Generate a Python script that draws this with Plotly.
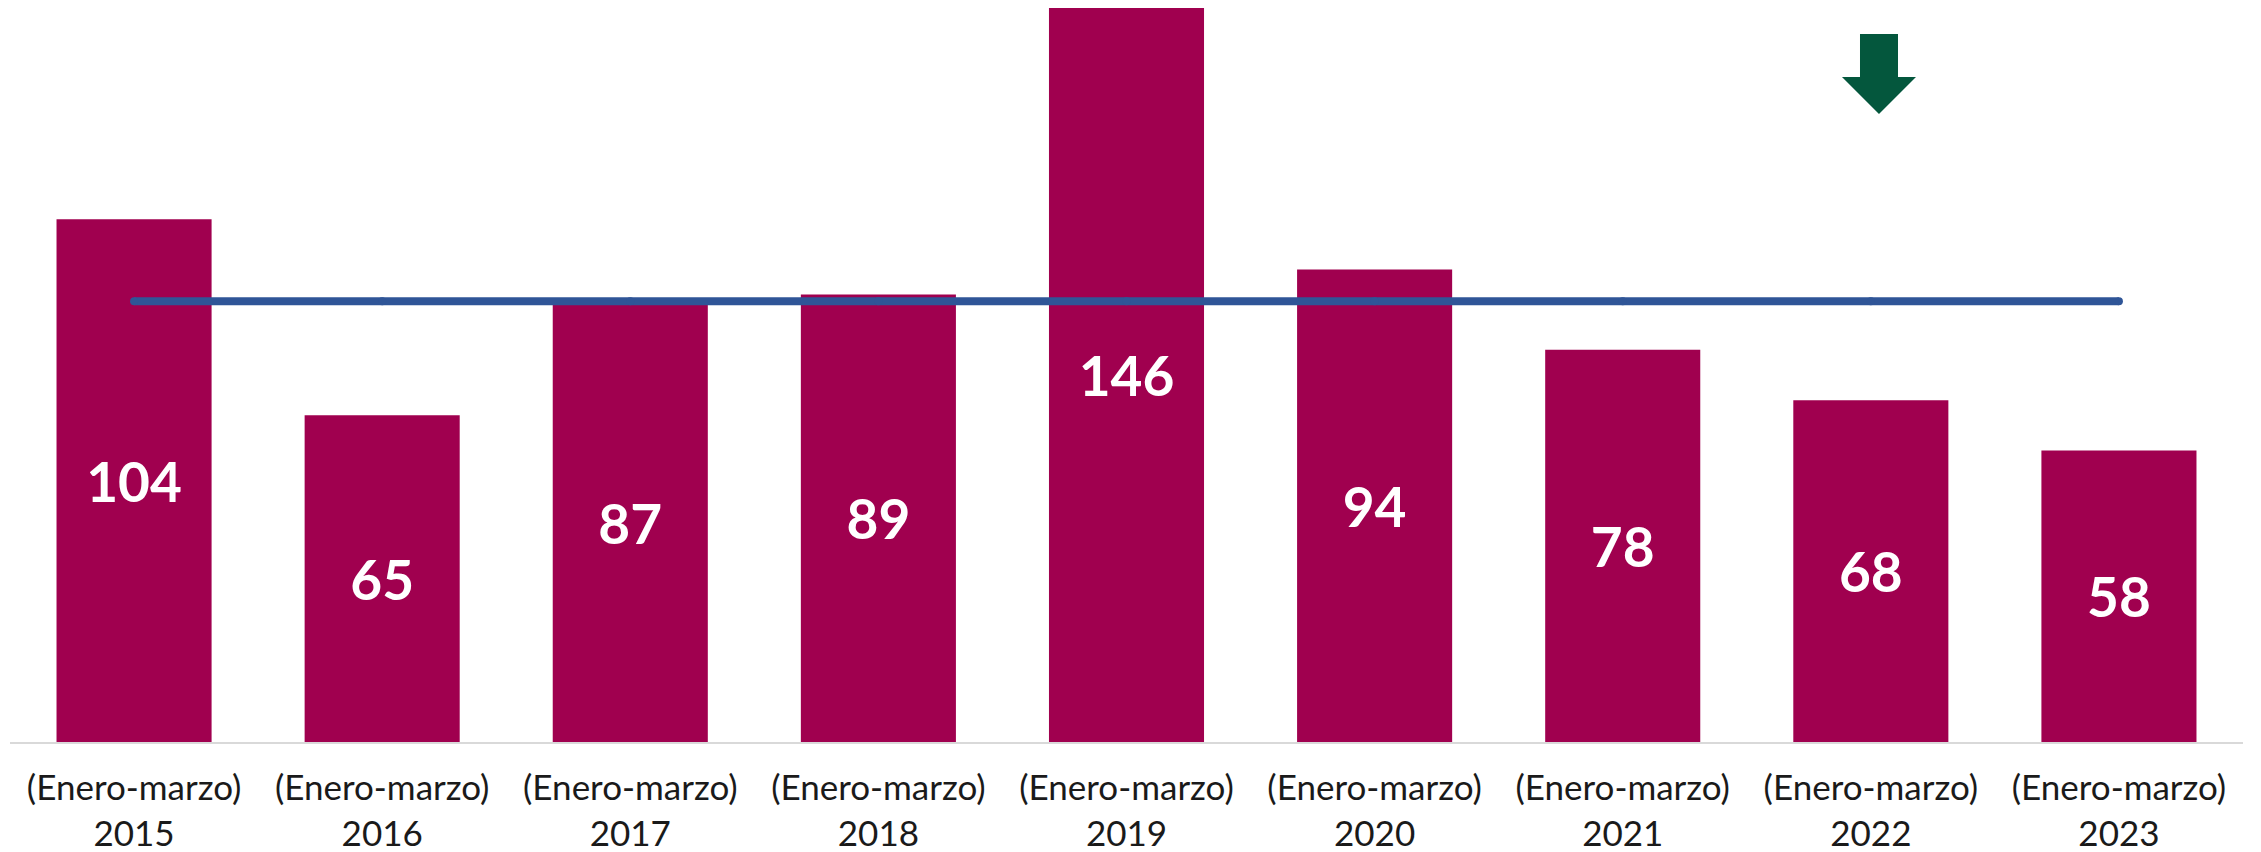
import plotly.graph_objects as go

years = ["2015", "2016", "2017", "2018", "2019", "2020", "2021", "2022", "2023"]
period = "(Enero-marzo)"
values = [104, 65, 87, 89, 146, 94, 78, 68, 58]
average = sum(values) / len(values)

categories = [f"{period}<br>{y}" for y in years]

W, H = 2261, 852
ML, MR, MT, MB = 10, 18, 8, 110
PW, PH = W - ML - MR, H - MT - MB


def px(x):
    return (x - ML) / PW


def py(y):
    return (H - MB - y) / PH


fig = go.Figure()
fig.add_trace(go.Bar(
    x=categories, y=values,
    marker=dict(color="#A0004F", line=dict(width=0)),
    text=[str(v) for v in values],
    textposition="inside", insidetextanchor="middle", textangle=0,
    constraintext="none",
    textfont=dict(family="Lato", size=55, color="white", weight="bold"),
    hoverinfo="skip",
))
fig.add_trace(go.Scatter(
    x=categories, y=[average] * len(categories),
    mode="lines+markers",
    line=dict(color="#2F5597", width=8),
    marker=dict(color="#2F5597", size=8, line=dict(width=0)),
    hoverinfo="skip",
))

# down arrow (pixel coordinates converted to paper)
pts = [(1860, 34), (1898, 34), (1898, 77), (1916, 77), (1879, 114), (1842, 77), (1860, 77)]
path = "M " + " L ".join(f"{px(x):.5f},{py(y):.5f}" for x, y in pts) + " Z"
fig.add_shape(type="path", path=path, xref="paper", yref="paper",
              fillcolor="#04573D", line=dict(width=0), layer="above")

fig.update_layout(
    width=W, height=H,
    margin=dict(l=ML, r=MR, t=MT, b=MB, autoexpand=False),
    paper_bgcolor="white", plot_bgcolor="white",
    showlegend=False,
    bargap=0.375,
    font=dict(family="Lato", color="#1a1a1a"),
    xaxis=dict(
        type="category", tickangle=0, showgrid=False, automargin=False,
        showline=True, linecolor="#D9D9D9", linewidth=2,
        ticks="", ticklabelstandoff=14,
        tickfont=dict(family="Lato", size=35, color="#1a1a1a"),
        fixedrange=True,
    ),
    yaxis=dict(range=[0, 146], visible=False, fixedrange=True, automargin=False),
)

fig.write_html("out.html", config={"displayModeBar": False},
               post_script="document.body.style.margin='0';")
